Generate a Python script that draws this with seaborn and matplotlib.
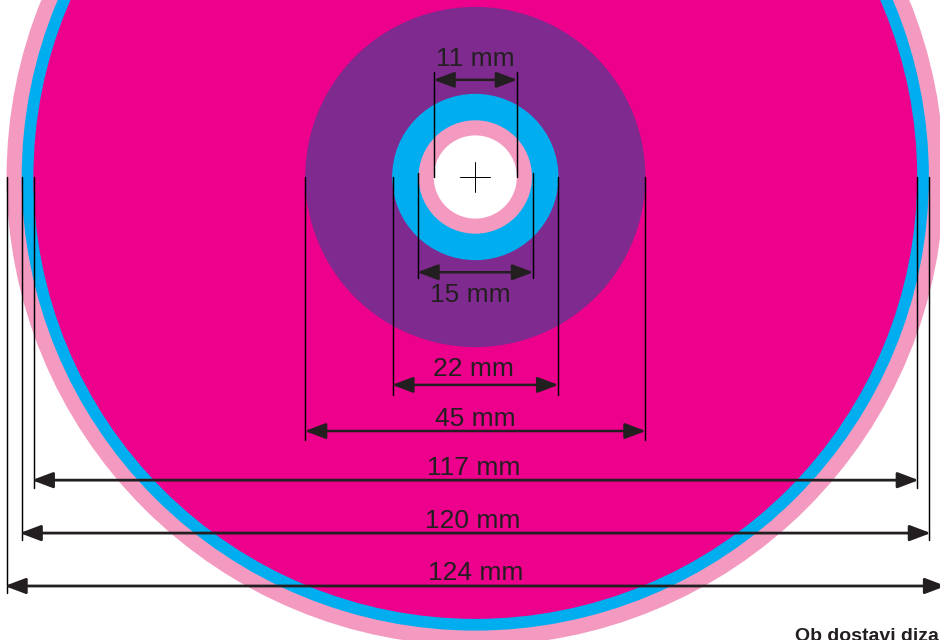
#import packages
import pandas as pd
import matplotlib
matplotlib.use("Agg")
import matplotlib.pyplot as plt
from matplotlib.patches import Circle
import seaborn as sns

#disc rings, outermost first (diameter in mm)
ring_diameters = [124, 120, 116.9, 45, 22, 15, 11]
ring_colors = ["#F49AC1", "#00AEEF", "#EC008C", "#7F2A8E", "#00AEEF", "#F49AC1", "#FFFFFF"]

#dimension labels, all in mm measured from disc centre
dim_labels = ["11 mm", "15 mm", "22 mm", "45 mm", "117 mm", "120 mm", "124 mm"]
dim_widths = [11, 15.25, 21.9, 45, 116.8, 120, 124]
arrow_rows = [-12.85, 12.6, 27.5, 33.6, 40.1, 47.1, 54.1]
ext_start = [-13.9, -0.5, 0, 0, 0, 0, 0]
ext_end = [0, 13.4, 28.8, 34.8, 41.2, 48.0, 55.0]
label_x = [0.05, -0.65, -0.25, 0, -0.2, -0.3, 0.05]
label_rows = [-15.65, 15.55, 25.4, 31.95, 38.45, 45.55, 52.35]

footer_text = "Ob dostavi diza"

px_per_mm = 7.56

sns.set_theme(style="white")
plt.rcParams['font.family'] = ['Liberation Sans', 'DejaVu Sans']

fig = plt.figure(figsize=(9.4, 6.4), dpi=100)
ax = fig.add_axes([0, 0, 1, 1])
ax.set_xlim(-475.3 / px_per_mm, 464.7 / px_per_mm)
ax.set_ylim(463 / px_per_mm, -177 / px_per_mm)
ax.set_aspect("equal")
ax.axis("off")

#rings
for d, c in zip(ring_diameters, ring_colors):
    ax.add_patch(Circle((0, 0), d / 2, facecolor=c, edgecolor="none", zorder=1))

#extension lines, one pair per dimension
ext_rows = []
for i, w in enumerate(dim_widths):
    for side in (-1, 1):
        ext_rows.append({"id": f"{i}{side}", "x": side * w / 2, "y": ext_start[i]})
        ext_rows.append({"id": f"{i}{side}", "x": side * w / 2, "y": ext_end[i]})
ext_df = pd.DataFrame(ext_rows)
sns.lineplot(data=ext_df, x="x", y="y", units="id", estimator=None, sort=False,
             color="black", lw=1.05, ax=ax, legend=False, zorder=3)

#centre cross
cross_df = pd.DataFrame({"id": [0, 0, 1, 1], "x": [-2, 2, 0, 0], "y": [0, 0, -2, 2]})
sns.lineplot(data=cross_df, x="x", y="y", units="id", estimator=None, sort=False,
             color="black", lw=0.7, ax=ax, legend=False, zorder=3)

#arrows and labels
for i, label in enumerate(dim_labels):
    big = dim_widths[i] > 100
    w = dim_widths[i] / 2 + (0.25 if big else 0.05)
    ax.annotate("", xy=(-w, arrow_rows[i]), xytext=(w, arrow_rows[i]),
                arrowprops=dict(arrowstyle="<|-|>,head_length=0.85,head_width=0.32",
                                color="#231F20", lw=2.0 if big else 1.8,
                                shrinkA=0, shrinkB=0, mutation_scale=15),
                zorder=4)
    ax.text(label_x[i], label_rows[i], label, ha="center", va="center", fontsize=19,
            color="#231F20", zorder=5)

ax.set_xlabel("")
ax.set_ylabel("")

fig.text(795 / 940, -1 / 640, footer_text, ha="left", va="baseline",
         fontsize=14, color="#231F20", fontweight="bold")

plt.savefig("out.png", dpi=100)
